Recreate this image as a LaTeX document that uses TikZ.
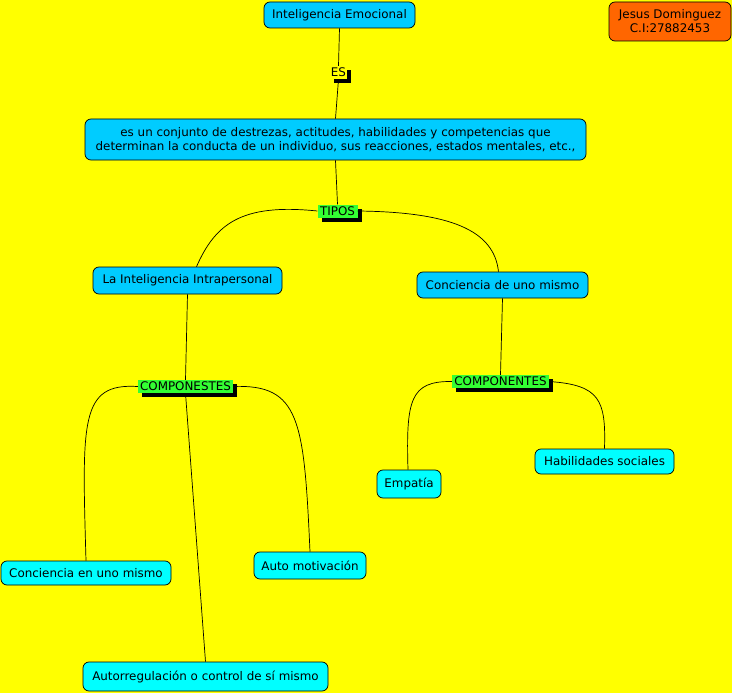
\documentclass[tikz,border=0pt]{standalone}
\usepackage{fontspec}
\setmainfont{DejaVu Sans}
\usetikzlibrary{positioning, shadows}
\definecolor{fondo}{HTML}{FFFF00}
\definecolor{azul}{HTML}{00CCFF}
\definecolor{celeste}{HTML}{00FFFF}
\definecolor{naranja}{HTML}{FF6600}
\definecolor{verde}{HTML}{33FF33}
\begin{document}
\begin{tikzpicture}[x=1pt,y=1pt]

% 定义样式
\tikzset{
	concept/.style={
		draw=black, line width=0.7pt,
		rounded corners=6pt,
		fill=#1, inner sep=0pt, align=center,
		font=\fontsize{11.9}{14}\selectfont
	},
	concept/.default=azul,
	linklabel/.style={
		fill=#1, inner sep=0pt,
		minimum height=13,
		font=\fontsize{11.9}{14}\selectfont,
		drop shadow={shadow xshift=4pt, shadow yshift=-4pt, fill=black, opacity=1}
	},
	linklabel/.default=verde,
	link/.style={line width=0.7pt}
}

% 背景
\fill[fondo] (0,0) rectangle (732,-693);
\useasboundingbox (0,0) rectangle (732,-693);

% 概念
\node[concept, minimum width=151, minimum height=26] (emo) at (339.5,-15) {Inteligencia Emocional};
\node[concept=naranja, minimum width=122, minimum height=39] (autor) at (670,-21.5) {Jesus Dominguez\\C.I:27882453};
\node[concept, minimum width=501, minimum height=41] (def) at (335.5,-139.5)
	{es un conjunto de destrezas, actitudes, habilidades y competencias que\\determinan la conducta de un individuo, sus reacciones, estados mentales, etc.,};
\node[concept, minimum width=189, minimum height=27] (intra) at (187.5,-280.5) {La Inteligencia Intrapersonal};
\node[concept, minimum width=171, minimum height=26] (conc) at (502.5,-285) {Conciencia de uno mismo};
\node[concept=celeste, minimum width=64, minimum height=28] (empat) at (409,-484) {Empatía};
\node[concept=celeste, minimum width=139, minimum height=25] (habil) at (604.5,-461.5) {Habilidades sociales};
\node[concept=celeste, minimum width=170, minimum height=24] (concen) at (86,-573) {Conciencia en uno mismo};
\node[concept=celeste, minimum width=112, minimum height=27] (automot) at (310,-565.5) {Auto motivación};
\node[concept=celeste, minimum width=245, minimum height=29] (autoreg) at (205.5,-676.5) {Autorregulación o control de sí mismo};

% 连接词
\node[linklabel=fondo, minimum width=17] (es) at (338.5,-72.5) {ES};
\node[linklabel, minimum width=40] (tipos) at (337.5,-211) {TIPOS};
\node[linklabel, minimum width=95] (compA) at (185.5,-386.5) {COMPONESTES};
\node[linklabel, minimum width=97] (compB) at (500.5,-381.5) {COMPONENTES};

% 直线
\draw[link] (emo.south) -- (es.north);
\draw[link] (es.south) -- (def.north);
\draw[link] (def.south) -- (tipos.north);
\draw[link] (intra.south) -- (compA.north);
\draw[link] (compA.south) -- (autoreg.north);
\draw[link] (conc.south) -- (compB.north);

% 曲线
\draw[link] (tipos.west) .. controls (240,-203) and (215,-225) .. ([xshift=9pt]intra.north);
\draw[link] (tipos.east) .. controls (450,-212) and (494,-230) .. ([xshift=-4pt]conc.north);
\draw[link] (compA.west) .. controls (80,-383) and (82,-420) .. (concen.north);
\draw[link] (compA.east) .. controls (300,-384) and (304,-420) .. (automot.north);
\draw[link] (compB.west) .. controls (410,-381) and (406,-400) .. ([xshift=-1pt]empat.north);
\draw[link] (compB.east) .. controls (600,-385) and (606,-400) .. (habil.north);

\end{tikzpicture}
\end{document}
